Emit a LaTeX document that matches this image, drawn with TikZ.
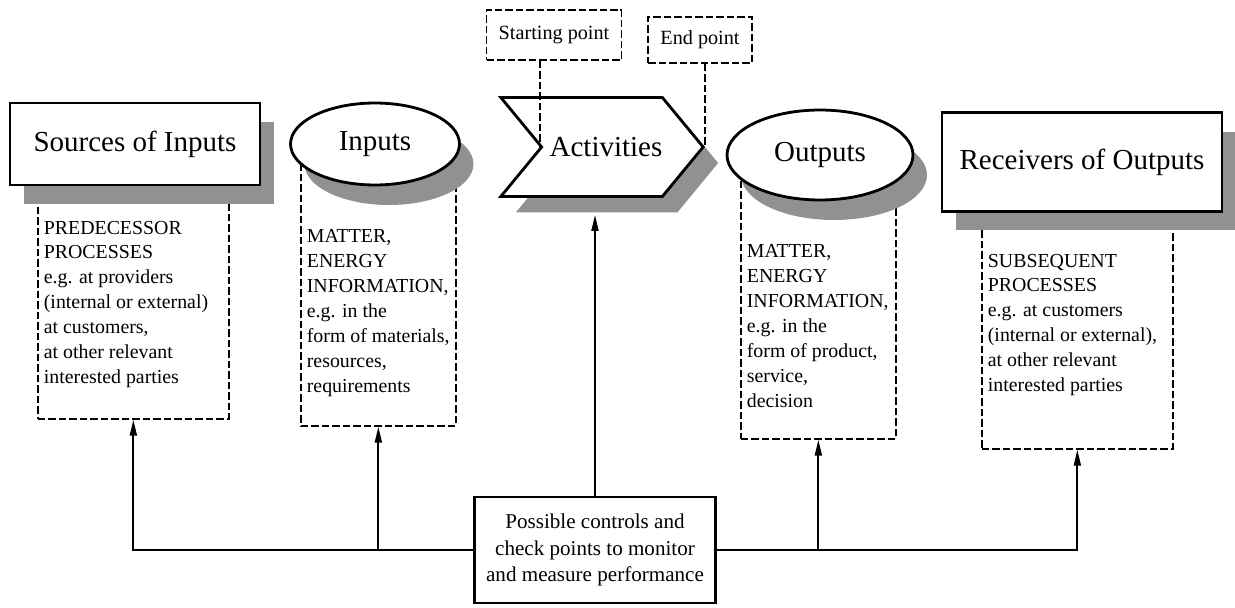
\documentclass[tikz,border=0pt]{standalone}
\usepackage{fontspec}
\setmainfont{Liberation Serif}
\usepackage{tikz}
\usetikzlibrary{arrows.meta,shapes,shadows,calc}
\definecolor{shadowgray}{RGB}{145,145,145}
\newcommand{\notefont}{\fontsize{11.3}{14.2}\selectfont}
\newcommand{\notelines}[4]{\parbox[t][#1][t]{#2}{\vspace*{#3}#4}}
\tikzstyle{arrow} = [line width=1.1pt,-{Triangle[length=0.32cm,width=0.14cm]}]
\tikzstyle{titlebox} = [rectangle, draw, line width=1.6pt, fill=white, font=\fontsize{16.5}{20}\selectfont, drop shadow={shadow xshift=0.28cm, shadow yshift=-0.38cm, fill=shadowgray, opacity=1}]
\tikzstyle{titleellipse} = [ellipse, draw, line width=1.6pt, fill=white, font=\fontsize{16.5}{20}\selectfont, drop shadow={shadow xshift=0.28cm, shadow yshift=-0.4cm, fill=shadowgray, opacity=1}]
\tikzstyle{notebox} = [rectangle, draw, line width=1pt, dash pattern=on 0.15cm off 0.06cm, inner xsep=0.12cm, inner ysep=0pt, anchor=north west, font=\notefont]
\tikzstyle{pointbox} = [rectangle, draw, line width=1pt, dash pattern=on 0.15cm off 0.06cm, font=\fontsize{11.5}{14}\selectfont]
\tikzstyle{pointline} = [line width=1pt, dash pattern=on 0.15cm off 0.06cm]
\tikzstyle{controlbox} = [rectangle, draw, line width=1.6pt, fill=white, align=center, font=\fontsize{12}{15.3}\selectfont]

\begin{document}
\begin{tikzpicture}[x=0.02cm, y=-0.02cm]
\useasboundingbox (0,0) rectangle (1235,608);

% Notes under the flow
\node[notebox] (srcnote) at (37,188) {\notelines{4.6cm}{3.58cm}{0.64cm}{PREDECESSOR\\PROCESSES\\e.g. at providers\\(internal or external)\\at customers,\\at other relevant\\interested parties}};
\node[notebox] (innote) at (300,160) {\notelines{5.3cm}{2.86cm}{1.38cm}{MATTER,\\ENERGY\\INFORMATION,\\e.g. in the\\form of materials,\\resources,\\requirements}};
\node[notebox] (outnote) at (740,170) {\notelines{5.36cm}{2.86cm}{1.48cm}{MATTER,\\ENERGY\\INFORMATION,\\e.g. in the\\form of product,\\service,\\decision}};
\node[notebox] (recnote) at (981,220) {\notelines{4.56cm}{3.58cm}{0.66cm}{SUBSEQUENT\\PROCESSES\\e.g. at customers\\(internal or external),\\at other relevant\\interested parties}};

% The flow
\node[titlebox, minimum width=5cm, minimum height=1.64cm] (src) at (135,144) {Sources of Inputs};
\node[titleellipse, minimum width=3.38cm, minimum height=1.64cm] (inp) at (375,144) {Inputs};
\node[signal, signal from=west, signal to=east, signal pointer angle=101, draw, line width=1.6pt, fill=white, font=\fontsize{16.5}{20}\selectfont, inner xsep=0pt, minimum height=1.98cm, drop shadow={shadow xshift=0.3cm, shadow yshift=-0.32cm, fill=shadowgray, opacity=1}] (act) at (602,147) {\hspace*{0.16cm}Activities};
\node[titleellipse, minimum width=3.72cm, minimum height=1.8cm] (outp) at (820,155) {Outputs};
\node[titlebox, minimum width=5.6cm, minimum height=1.98cm] (rec) at (1082,162) {Receivers of Outputs};

% Start and end of the activities
\node[pointbox, minimum width=2.7cm, minimum height=1cm] (startpt) at (554,35) {Starting point};
\node[pointbox, minimum width=2.08cm, minimum height=0.92cm] (endpt) at (700,40) {End point};
\draw[pointline] (startpt.south -| act.west) -- (act.west);
\draw[pointline] (endpt.south -| act.east) -- (act.east);

% Controls
\node[controlbox, minimum width=4.82cm, minimum height=2.12cm] (ctrl) at (595,550) {Possible controls and\\check points to monitor\\and measure performance};
\draw[arrow] (ctrl.west) -| (srcnote.south);
\draw[arrow] (ctrl.west -| innote.south) -- (innote.south);
\draw[arrow] (ctrl.north) -- ([yshift=-0.34cm]ctrl.north |- act.south);
\draw[arrow] (ctrl.east -| outnote.south) -- (outnote.south);
\draw[arrow] (ctrl.east) -| (recnote.south);
\end{tikzpicture}
\end{document}
